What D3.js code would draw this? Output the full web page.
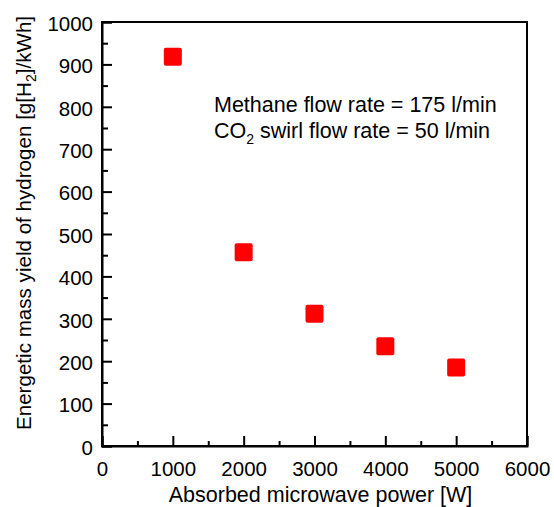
<!DOCTYPE html>
<html>
<head>
<meta charset="utf-8">
<script src="https://cdn.jsdelivr.net/npm/d3@7"></script>
<style>
	body { margin: 0; background: #fff; }
	svg { display: block; font-family: 'Liberation Sans', Arial, sans-serif; }
	.axis text { font-size: 20.5px; fill: #000; }
	.axis line, .axis path { stroke: #000; stroke-width: 2; }
	.title { font-size: 21.5px; fill: #000; }
</style>
</head>
<body>
<div id="chart"></div>
<script>
// data
const powers = [1000, 2000, 3000, 4000, 5000];
const yields = [918, 457, 312, 235, 185];
const xTicks = [0, 1000, 2000, 3000, 4000, 5000, 6000];
const yTicks = [0, 100, 200, 300, 400, 500, 600, 700, 800, 900, 1000];

const width = 554;
const height = 507;
const margin = { top: 22, right: 27, bottom: 61, left: 102 };
const innerW = width - margin.left - margin.right;
const innerH = height - margin.top - margin.bottom;

const svg = d3.select('#chart').append('svg')
	.attr('width', width)
	.attr('height', height);

const g = svg.append('g')
	.attr('transform', `translate(${margin.left}, ${margin.top})`);

const x = d3.scaleLinear().domain([0, 6000]).range([0, innerW]);
const y = d3.scaleLinear().domain([0, 1000]).range([innerH, 0]);

// minor ticks first, labels come from the major axis
g.append('g')
	.attr('class', 'axis')
	.attr('transform', `translate(0, ${innerH})`)
	.call(d3.axisBottom(x).tickValues(d3.range(500, 6000, 1000)).tickSize(-5).tickFormat(''))
	.call(g => g.select('.domain').remove());

g.append('g')
	.attr('class', 'axis')
	.call(d3.axisLeft(y).tickValues(d3.range(50, 1000, 100)).tickSize(-6).tickFormat(''))
	.call(g => g.select('.domain').remove());

g.append('g')
	.attr('class', 'axis')
	.attr('transform', `translate(0, ${innerH})`)
	.call(d3.axisBottom(x).tickValues(xTicks).tickSize(-10).tickPadding(15).tickFormat(d3.format('d')))
	.call(g => g.selectAll('text').attr('dy', '0.71em'));

g.append('g')
	.attr('class', 'axis')
	.call(d3.axisLeft(y).tickValues(yTicks).tickSize(-10).tickPadding(9).tickFormat(d3.format('d')))
	.call(g => g.selectAll('text').attr('dy', '0.4em'));

// frame top and right
g.append('rect')
	.attr('width', innerW)
	.attr('height', innerH)
	.attr('fill', 'none')
	.attr('stroke', '#000')
	.attr('stroke-width', 2);

// points
g.append('g')
	.selectAll('rect')
	.data(powers.map((p, i) => ({ p, v: yields[i] })))
	.enter().append('rect')
		.attr('x', d => x(d.p) - 9)
		.attr('y', d => y(d.v) - 9)
		.attr('width', 18)
		.attr('height', 18)
		.attr('rx', 2)
		.attr('fill', '#ff0000');

// axis titles
svg.append('text')
	.attr('class', 'title')
	.attr('x', margin.left + innerW / 2 + 6)
	.attr('y', 502)
	.attr('text-anchor', 'middle')
	.text('Absorbed microwave power [W]');

const yl = svg.append('text')
	.attr('class', 'title')
	.style('font-size', '20.6px')
	.attr('transform', `translate(31, 223) rotate(-90)`)
	.attr('text-anchor', 'middle');
yl.append('tspan').text('Energetic mass yield of hydrogen [g[H');
yl.append('tspan').attr('dy', 5).style('font-size', '14px').text('2');
yl.append('tspan').attr('dy', -5).text(']/kWh]');

// annotation
svg.append('text')
	.attr('class', 'title')
	.attr('x', 214)
	.attr('y', 112)
	.text('Methane flow rate = 175 l/min');

const note = svg.append('text')
	.attr('class', 'title')
	.attr('x', 214)
	.attr('y', 138);
note.append('tspan').text('CO');
note.append('tspan').attr('dy', 6).style('font-size', '14px').text('2');
note.append('tspan').attr('dy', -6).text(' swirl flow rate = 50 l/min');
</script>
</body>
</html>
